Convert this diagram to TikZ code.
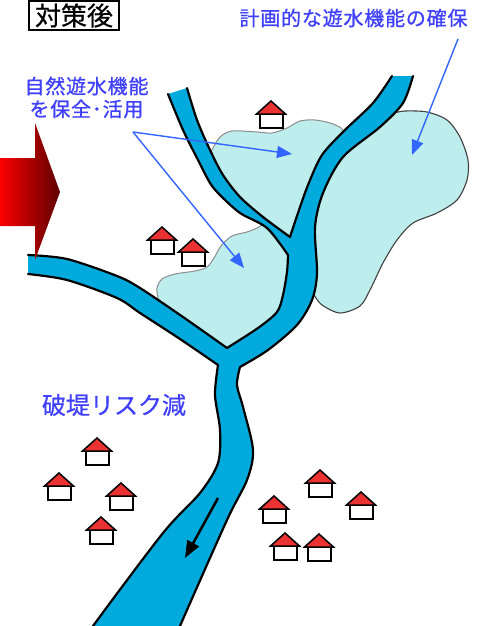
\documentclass[tikz,border=0pt]{standalone}
\usepackage{fontspec}
\newfontfamily\jp[FakeBold=0.6]{Noto Sans CJK JP}
\newfontfamily\jpwide[LetterSpace=4,FakeBold=0.8]{Noto Sans CJK JP}
\usetikzlibrary{arrows.meta}

\definecolor{riverblue}{RGB}{0,170,220}
\definecolor{lakecyan}{RGB}{190,237,237}
\definecolor{lakeedge}{RGB}{140,140,140}
\definecolor{roofred}{RGB}{235,50,50}
\definecolor{textblue}{RGB}{64,64,250}
\definecolor{pointerblue}{RGB}{51,102,255}
\definecolor{arrowdark}{RGB}{95,0,0}

\tikzset{
  lake/.style={fill=lakecyan, draw=lakeedge, line width=1pt},
  lakedark/.style={fill=lakecyan, draw=black!75, line width=1.1pt},
  riverfill/.style={fill=riverblue},
  riverbank/.style={draw=black, line width=2.2pt, line cap=round, line join=round},
  pointer/.style={draw=pointerblue, line width=1.4pt, -{Triangle[length=15pt,width=12pt]}},
  flow/.style={draw=black, line width=2.5pt, -{Triangle[length=17pt,width=13pt]}},
  bluetext/.style={text=textblue, inner sep=0pt},
  house/.pic={
    \draw[fill=white, draw=black, line width=2pt] (-11.5,0) rectangle (11.5,14);
    \draw[fill=roofred, draw=black, line width=1.5pt, line join=miter]
      (-14.5,0) -- (0,-13) -- (14.5,0) -- cycle;
  }
}

\begin{document}
\begin{tikzpicture}[x=1pt,y=-1pt]
\useasboundingbox[fill=white] (0,0) rectangle (484,626);

% retention basins
\filldraw[lake] (204,155) -- plot[smooth] coordinates {(212,150) (220,137) (232,131) (257,132) (272,133) (287,128) (300,121) (315,120) (330,123) (341,128) (348,137)}
  -- (333,156) -- (316,189) -- (307,220) -- (298,245) -- (277,233) -- (252,215) -- (230,196) -- (216,179) -- cycle;
\filldraw[lakedark] (388,103) -- plot[smooth] coordinates {(394,113) (405,111) (427,112) (447,120) (460,137) (468,160) (467,180) (457,200) (437,213) (413,223) (397,240) (383,263) (370,290) (360,306) (340,313) (322,305) (314,295)}
  -- (297,297) -- (301,260) -- (305,220) -- (315,190) -- (333,157) -- (362,129) -- cycle;
\filldraw[lake] (160,312) -- plot[smooth] coordinates {(158,298) (157,288) (162,279) (175,274) (195,271) (207,267) (214,258) (221,246) (232,236) (247,232) (257,228) (262,225)}
  -- (265,223) -- (298,245) -- (301,265) -- (297,297) -- (270,333) -- (222,357) -- (182,328) -- cycle;

% river network: water surface
\fill[riverfill]
  plot[smooth] coordinates {(28,255) (67,259) (117,276) (140,288) (183,317) (227,348)}
  -- plot[smooth] coordinates {(227,348) (258,328) (277,312) (283,295) (287,272) (288,255)}
  -- plot[smooth] coordinates {(288,255) (267,228) (240,213) (220,195) (210,183) (198,160) (183,130) (168,94)}
  -- plot[smooth] coordinates {(187,88) (197,120) (210,150) (223,175) (240,197) (263,217) (290,237)}
  -- plot[smooth] coordinates {(290,237) (298,213) (308,185) (322,155) (345,130) (373,103) (392,76)}
  -- plot[smooth] coordinates {(413,76) (403,103) (380,127) (343,157) (323,193) (315,227) (317,273) (312,300) (297,325) (268,350) (240,367)}
  -- plot[smooth] coordinates {(240,367) (237,385) (243,407) (253,450) (247,480) (227,520) (180,626) (175,640)}
  -- plot[smooth] coordinates {(85,640) (93,626) (163,533) (200,493) (218,463) (220,430) (215,395) (218,365)}
  -- plot[smooth] coordinates {(218,365) (180,339) (140,313) (117,298) (67,280) (28,274)}
  -- cycle;

% river network: banks
\draw[riverbank]
  plot[smooth] coordinates {(28,255) (67,259) (117,276) (140,288) (183,317) (227,348)}
  -- plot[smooth] coordinates {(227,348) (258,328) (277,312) (283,295) (287,272) (288,255)}
  -- plot[smooth] coordinates {(288,255) (267,228) (240,213) (220,195) (210,183) (198,160) (183,130) (168,94)};
\draw[riverbank]
  plot[smooth] coordinates {(187,88) (197,120) (210,150) (223,175) (240,197) (263,217) (290,237)}
  -- plot[smooth] coordinates {(290,237) (298,213) (308,185) (322,155) (345,130) (373,103) (392,76)};
\draw[riverbank]
  plot[smooth] coordinates {(413,76) (403,103) (380,127) (343,157) (323,193) (315,227) (317,273) (312,300) (297,325) (268,350) (240,367)}
  -- plot[smooth] coordinates {(240,367) (237,385) (243,407) (253,450) (247,480) (227,520) (180,626) (175,640)};
\draw[riverbank]
  plot[smooth] coordinates {(85,640) (93,626) (163,533) (200,493) (218,463) (220,430) (215,395) (218,365)}
  -- plot[smooth] coordinates {(218,365) (180,339) (140,313) (117,298) (67,280) (28,274)};

% flow direction
\coordinate (flowStart) at (218,498);
\coordinate (flowEnd) at (185,558);
\draw[flow] (flowStart) -- (flowEnd);

% houses
\foreach \hx/\hy in {271/101, 162/227, 193/239, 97/438, 59/473, 121/483, 101/517,
                     320/470, 274/496, 361/492, 285/533, 319/534}
  \pic at (\hx,\hy+13) {house};

% big transition arrow
\shade[left color=red, right color=arrowdark]
  (-2,158) -- (35,158) -- (35,123) -- (60,192) -- (35,260) -- (35,226) -- (-2,226) -- cycle;

% labels
\node[draw=black, line width=1.5pt, minimum width=90pt, minimum height=29pt, inner sep=0pt,
      font=\jp\fontsize{26pt}{28pt}\selectfont] (title) at (74,15.5) {対策後};
\node[bluetext, font=\jpwide\fontsize{20pt}{22pt}\selectfont] (plan) at (353.5,18) {計画的な遊水機能の確保};
\node[bluetext, font=\jpwide\fontsize{20pt}{22pt}\selectfont] (natA) at (86.5,86) {自然遊水機能};
\node[bluetext, font=\jpwide\fontsize{20pt}{22pt}\selectfont] (natB) at (86.5,109) {を保全･活用};
\node[bluetext, font=\jp\fontsize{24pt}{26pt}\selectfont] (risk) at (114,405) {破堤リスク減};

% pointers
\coordinate (fork) at (133,132);
\coordinate (upperBasin) at (292,154);
\coordinate (lowerBasin) at (244,268);
\coordinate (planFoot) at (458,39);
\coordinate (rightBasin) at (412,155);
\draw[pointer] (fork) -- (upperBasin);
\draw[pointer] (fork) -- (lowerBasin);
\draw[pointer] (planFoot) -- (rightBasin);
\end{tikzpicture}
\end{document}
